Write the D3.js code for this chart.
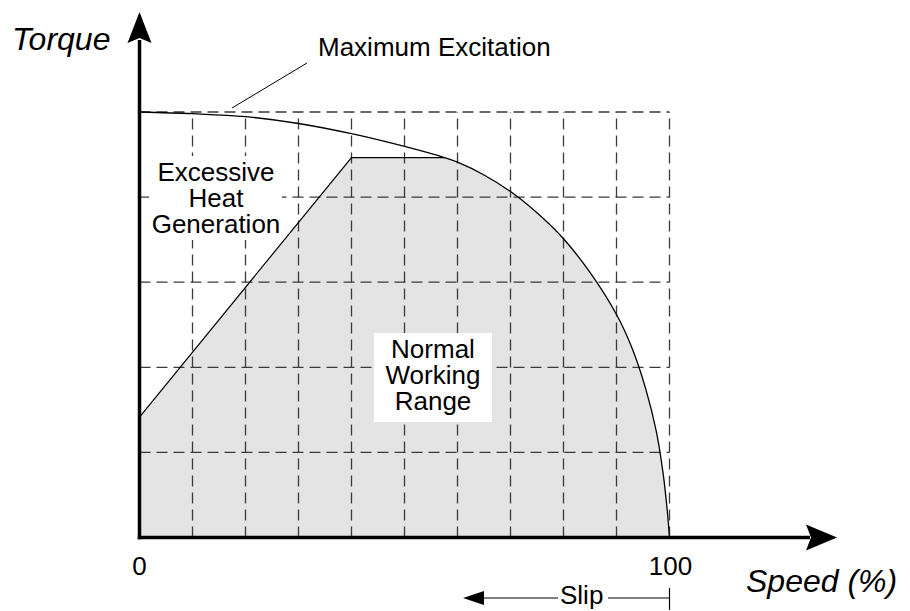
<!DOCTYPE html>
<html>
<head>
<meta charset="utf-8">
<script src="https://cdn.jsdelivr.net/npm/d3@7/dist/d3.min.js"></script>
<style>
html,body{margin:0;padding:0;background:#fff;}
svg{display:block;font-family:"Liberation Sans",Arial,Helvetica,sans-serif;}
</style>
</head>
<body>
<svg id="chart" width="910" height="611"></svg>
<script>
// ---- data ----
const gridSpeeds = [10,20,30,40,50,60,70,80,90,100];
const gridTorques = [20,40,60,80,100];
// Maximum excitation curve
const curveSpeed  = [0,10,20,30,40,50,57.5,60,65,70,75,80,85,90,93,95.5,97.5,98.8,99.6,100];
const curveTorque = [100,99.6,98.9,97.3,94.9,91.9,89.3,88.2,85.2,81.3,76.3,70.2,62.3,52.4,44.3,35,25,15,6,0];
// normal working range: lower-left boundary, then follows curve
const rangeSpeed  = [0,40,57.5];
const rangeTorque = [28.3,89.3,89.3];
const tickLabels = [{v:0,t:"0"},{v:100,t:"100"}];

// ---- scales ----
const x = d3.scaleLinear().domain([0,100]).range([139.5,669.5]);
const y = d3.scaleLinear().domain([0,100]).range([537.5,112]);

const svg = d3.select("#chart");

const curvePts = curveSpeed.map((s,i)=>[s,curveTorque[i]]);
const smooth = d3.line().x(d=>x(d[0])).y(d=>y(d[1])).curve(d3.curveCatmullRom.alpha(0.5));
const straight = d3.line().x(d=>x(d[0])).y(d=>y(d[1]));

const rangePts = rangeSpeed.map((s,i)=>[s,rangeTorque[i]]);
const rangePath = straight(rangePts);
const tail = [[57.5,89.3]].concat(curvePts.filter(p=>p[0]>57.5));
const tailPath = smooth(tail);

// shaded region
svg.append("path")
  .attr("d", rangePath + tailPath.replace(/^M[^A-Za-z]*/, "L" + x(57.5) + "," + y(89.3)) + "L" + x(0) + "," + y(0) + "Z")
  .attr("fill","#e4e4e4").attr("stroke","none");

// grid
const grid = svg.append("g").attr("stroke","#3a3a3a").attr("stroke-width",1.3).attr("stroke-dasharray","11,6").attr("fill","none");
gridSpeeds.forEach(s=>{
  grid.append("line").attr("x1",x(s)).attr("x2",x(s)).attr("y1",y(0)).attr("y2",y(100));
});
gridTorques.forEach(t=>{
  grid.append("line").attr("x1",x(0)).attr("x2",x(100)).attr("y1",y(t)).attr("y2",y(t));
});

// boundary of working range (left slope + flat top)
svg.append("path").attr("d", rangePath).attr("fill","none").attr("stroke","#000").attr("stroke-width",1.2);

// max excitation curve
svg.append("path").attr("d", smooth(curvePts)).attr("fill","none").attr("stroke","#000").attr("stroke-width",1.3);

// white label boxes
svg.append("rect").attr("x",149).attr("y",156).attr("width",133).attr("height",84).attr("fill","#fff");
svg.append("rect").attr("x",374).attr("y",333).attr("width",118).attr("height",89).attr("fill","#fff");

// labels
function multi(lines, cx, y0, lh){
  const t = svg.append("text").attr("text-anchor","middle").attr("font-size",26).attr("fill","#000");
  lines.forEach((l,i)=>t.append("tspan").attr("x",cx).attr("y",y0+i*lh).text(l));
}
multi(["Excessive","Heat","Generation"], 216, 181, 26);
multi(["Normal","Working","Range"], 433, 358, 26);

svg.append("text").attr("x",318).attr("y",56).attr("font-size",26).text("Maximum Excitation");
svg.append("line").attr("x1",307).attr("y1",63).attr("x2",232).attr("y2",108).attr("stroke","#000").attr("stroke-width",1);

// axes
svg.append("line").attr("x1",x(0)).attr("x2",x(0)).attr("y1",y(0)+1.75).attr("y2",40).attr("stroke","#000").attr("stroke-width",3.5);
svg.append("line").attr("x1",x(0)-1.75).attr("x2",810).attr("y1",y(0)).attr("y2",y(0)).attr("stroke","#000").attr("stroke-width",3.5);
// arrowheads
svg.append("path").attr("d",`M${x(0)},12 L${x(0)+12},43 L${x(0)},38 L${x(0)-12},43 Z`).attr("fill","#000");
svg.append("path").attr("d",`M837,${y(0)} L806,${y(0)-13} L811,${y(0)} L806,${y(0)+13} Z`).attr("fill","#000");

// tick labels
tickLabels.forEach(d=>{
  svg.append("text").attr("x",x(d.v)+(d.v===0?0:1)).attr("y",575).attr("text-anchor","middle").attr("font-size",26).text(d.t);
});

// axis titles
svg.append("text").attr("x",12).attr("y",50).attr("font-size",32).attr("font-style","italic").text("Torque");
svg.append("text").attr("x",746).attr("y",592).attr("font-size",32).attr("font-style","italic").text("Speed (%)");

// slip indicator
svg.append("line").attr("x1",478).attr("x2",558).attr("y1",598).attr("y2",598).attr("stroke","#000").attr("stroke-width",1.2);
svg.append("path").attr("d","M463,598 L484,591 L484,605 Z").attr("fill","#000");
svg.append("text").attr("x",560).attr("y",604).attr("font-size",26).text("Slip");
svg.append("line").attr("x1",608).attr("x2",x(100)).attr("y1",598).attr("y2",598).attr("stroke","#000").attr("stroke-width",1.2);
svg.append("line").attr("x1",x(100)).attr("x2",x(100)).attr("y1",588).attr("y2",610).attr("stroke","#000").attr("stroke-width",1.2);
</script>
</body>
</html>
